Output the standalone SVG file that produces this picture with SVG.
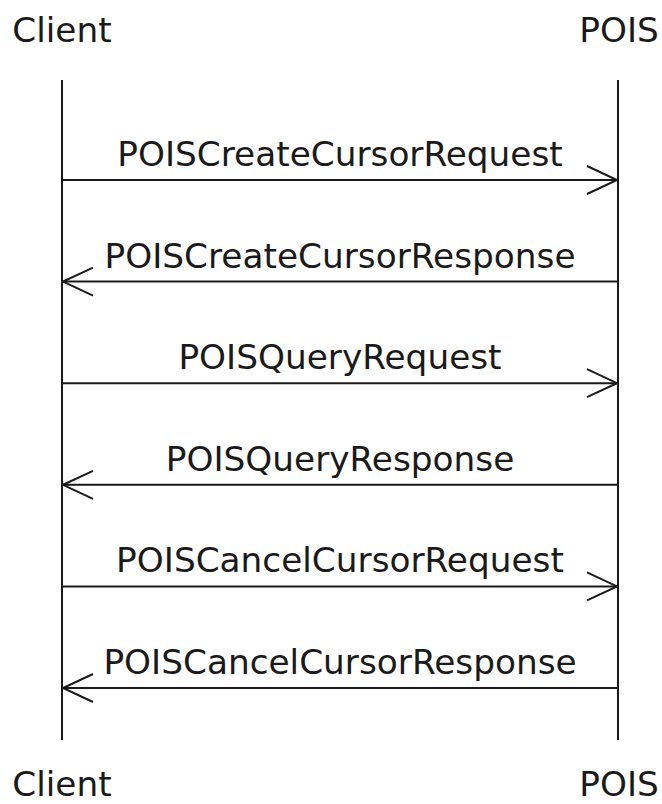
<svg xmlns="http://www.w3.org/2000/svg" width="662" height="804" viewBox="0 0 662 804">
<style>
text { font-family: "DejaVu Sans", "Liberation Sans", sans-serif; font-size: 34.3px; fill: #1a1a1a; text-anchor: middle; }
.life { stroke: #1a1a1a; stroke-width: 2; fill: none; }
.msg { stroke: #1a1a1a; stroke-width: 2; fill: none; }
.head { stroke: #1a1a1a; stroke-width: 2; fill: none; stroke-linejoin: miter; }
</style>
<rect width="662" height="804" fill="#ffffff"/>
<g id="client">
  <text x="62" y="42">Client</text>
  <line class="life" x1="62" y1="80" x2="62" y2="740"/>
  <text x="62" y="796">Client</text>
</g>
<g id="pois">
  <text x="619" y="42">POIS</text>
  <line class="life" x1="618" y1="80" x2="618" y2="740"/>
  <text x="619" y="796">POIS</text>
</g>
<g id="connectors">
  <g id="m1">
    <line class="msg" x1="62" y1="180" x2="618" y2="180"/>
    <polyline class="head" points="587,166 617,180 587,194"/>
    <text x="340" y="166">POISCreateCursorRequest</text>
  </g>
  <g id="m2">
    <line class="msg" x1="62" y1="281.6" x2="618" y2="281.6"/>
    <polyline class="head" points="93,267.6 63,281.6 93,295.6"/>
    <text x="340" y="267.6">POISCreateCursorResponse</text>
  </g>
  <g id="m3">
    <line class="msg" x1="62" y1="383.2" x2="618" y2="383.2"/>
    <polyline class="head" points="587,369.2 617,383.2 587,397.2"/>
    <text x="340" y="369.2">POISQueryRequest</text>
  </g>
  <g id="m4">
    <line class="msg" x1="62" y1="484.8" x2="618" y2="484.8"/>
    <polyline class="head" points="93,470.8 63,484.8 93,498.8"/>
    <text x="340" y="470.8">POISQueryResponse</text>
  </g>
  <g id="m5">
    <line class="msg" x1="62" y1="586.4" x2="618" y2="586.4"/>
    <polyline class="head" points="587,572.4 617,586.4 587,600.4"/>
    <text x="340" y="572.4">POISCancelCursorRequest</text>
  </g>
  <g id="m6">
    <line class="msg" x1="62" y1="688" x2="618" y2="688"/>
    <polyline class="head" points="93,674 63,688 93,702"/>
    <text x="340" y="674">POISCancelCursorResponse</text>
  </g>
</g>
</svg>
